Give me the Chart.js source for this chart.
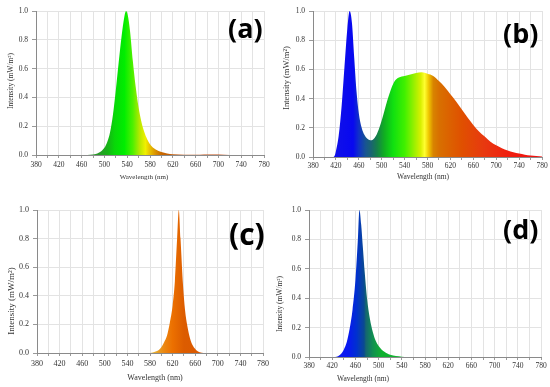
<!DOCTYPE html>
<html>
<head>
<meta charset="utf-8">
<script src="https://cdn.jsdelivr.net/npm/chart.js@4.4.0/dist/chart.umd.min.js"></script>
<style>
  body { margin: 0; background: #fff; }
  #wrap { position: relative; width: 550px; height: 387px; overflow: hidden; background: #fff; }
  .panel { position: absolute; }
  .tag { position: absolute; font-family: 'Open Sans', sans-serif; font-weight: 700; color: #000; line-height: 1; }
</style>
</head>
<body>
<div id="wrap">
  <div class="panel" style="left:0;top:0;width:275px;height:190px"><canvas id="chartA"></canvas></div>
  <div class="panel" style="left:275px;top:0;width:275px;height:190px"><canvas id="chartB"></canvas></div>
  <div class="panel" style="left:0;top:190px;width:275px;height:197px"><canvas id="chartC"></canvas></div>
  <div class="panel" style="left:275px;top:190px;width:275px;height:197px"><canvas id="chartD"></canvas></div>
  <div class="tag" style="left:228px;top:14px;font-size:27px">(a)</div>
  <div class="tag" style="left:503px;top:19px;font-size:27px">(b)</div>
  <div class="tag" style="left:229px;top:219px;font-size:30px">(c)</div>
  <div class="tag" style="left:503px;top:215px;font-size:27px">(d)</div>
</div>
<script>
// wavelength (nm) / normalised intensity
const wlA  = [380, 470, 480, 490, 500, 505, 510, 515, 520, 525, 530, 535, 538, 541, 545, 550, 555, 560, 565, 570, 575, 580, 590, 600, 610, 620, 640, 660, 675, 690, 700, 720, 780];
const intA = [0, 0, 0.003, 0.015, 0.05, 0.09, 0.16, 0.28, 0.45, 0.64, 0.82, 0.96, 1.0, 0.97, 0.86, 0.65, 0.47, 0.33, 0.23, 0.16, 0.11, 0.075, 0.038, 0.02, 0.01, 0.005, 0.002, 0.001, 0.004, 0.003, 0.004, 0, 0];

const wlB  = [380, 410, 415, 418, 420, 425, 430, 435, 440, 444, 448, 452, 456, 460, 465, 470, 475, 480, 485, 490, 495, 500, 505, 510, 515, 520, 525, 530, 540, 550, 560, 570, 580, 590, 600, 610, 620, 630, 640, 650, 660, 670, 680, 690, 700, 710, 720, 730, 740, 750, 760, 770, 780];
const intB = [0, 0, 0, 0.01, 0.04, 0.15, 0.35, 0.62, 0.88, 1.0, 0.92, 0.68, 0.45, 0.30, 0.20, 0.15, 0.125, 0.115, 0.12, 0.145, 0.19, 0.25, 0.32, 0.39, 0.45, 0.50, 0.53, 0.545, 0.555, 0.565, 0.575, 0.58, 0.57, 0.555, 0.52, 0.48, 0.43, 0.38, 0.325, 0.27, 0.22, 0.175, 0.14, 0.105, 0.08, 0.06, 0.045, 0.033, 0.024, 0.016, 0.01, 0.006, 0.004];

const wlC  = [380, 580, 585, 590, 595, 600, 605, 610, 615, 620, 624, 628, 631, 634, 638, 642, 646, 651, 656, 662, 668, 675, 780];
const intC = [0, 0, 0.003, 0.01, 0.02, 0.04, 0.075, 0.12, 0.21, 0.33, 0.5, 0.8, 1.0, 0.8, 0.5, 0.3, 0.19, 0.1, 0.05, 0.02, 0.005, 0, 0];

const wlD  = [380, 425, 430, 435, 440, 445, 450, 455, 460, 464, 467, 470, 473, 476, 480, 485, 490, 495, 500, 510, 520, 530, 540, 550, 780];
const intD = [0, 0, 0.005, 0.02, 0.05, 0.1, 0.19, 0.32, 0.52, 0.78, 1.0, 0.9, 0.74, 0.58, 0.40, 0.26, 0.17, 0.11, 0.075, 0.035, 0.015, 0.006, 0.002, 0, 0];

const xTicks = [380, 420, 460, 500, 540, 580, 620, 660, 700, 740, 780];

// colour stops along the wavelength axis for each fill
const stopsA = [[380, '#2a8a2a'], [490, '#2a9a2a'], [505, '#18b018'], [518, '#08d808'], [535, '#00ee00'], [550, '#50f000'], [562, '#b8e800'], [572, '#f0f000'], [580, '#e8c000'], [590, '#d89000'], [600, '#c86800'], [640, '#c05010'], [780, '#c04010']];
const stopsB = [[380, '#1a1ae0'], [450, '#0808f0'], [460, '#1030c8'], [472, '#185590'], [482, '#1a6570'], [492, '#158048'], [505, '#10b020'], [520, '#10e010'], [540, '#40f000'], [555, '#90f000'], [568, '#d8f000'], [575, '#ffff30'], [582, '#f0c800'], [590, '#d88400'], [600, '#d87000'], [640, '#e05000'], [680, '#e83810'], [720, '#f02010'], [780, '#f01010']];
const stopsC = [[380, '#e8c040'], [588, '#e8b030'], [597, '#e89820'], [607, '#ec8410'], [620, '#ec7000'], [640, '#dc5c00'], [780, '#d85000']];
const stopsD = [[380, '#2020f0'], [448, '#0818f0'], [462, '#0030d0'], [470, '#0840a8'], [475, '#0a4a90'], [478, '#156570'], [490, '#109050'], [505, '#10b030'], [780, '#20c030']];

const serif = "'Liberation Serif', 'Times New Roman', serif";

function spectrumFill(stops) {
  return function (context) {
    const chart = context.chart;
    if (!chart.chartArea) return 'rgba(0,0,0,0)';
    const xs = chart.scales.x;
    const g = chart.ctx.createLinearGradient(xs.getPixelForValue(380), 0, xs.getPixelForValue(780), 0);
    stops.forEach(s => g.addColorStop((s[0] - 380) / 400, s[1]));
    return g;
  };
}

// axis captions drawn where the original figure has them
const captions = {
  id: 'captions',
  afterDraw(chart, args, opts) {
    const ctx = chart.ctx;
    ctx.save();
    ctx.fillStyle = '#333';
    ctx.textAlign = 'center';
    ctx.textBaseline = 'middle';
    ctx.font = opts.xSize + 'px ' + serif;
    ctx.fillText('Wavelength (nm)', opts.xPos[0], opts.xPos[1]);
    ctx.translate(opts.yPos[0], opts.yPos[1]);
    ctx.rotate(-Math.PI / 2);
    ctx.font = opts.ySize + 'px ' + serif;
    ctx.fillText('Intensity (mW/m²)', 0, 0);
    ctx.restore();
  }
};

function makeChart(id, wl, values, stops, box) {
  const points = wl.map((w, i) => ({ x: w, y: values[i] }));
  return new Chart(document.getElementById(id), {
    type: 'line',
    data: {
      datasets: [{
        data: points,
        fill: 'origin',
        backgroundColor: spectrumFill(stops),
        borderWidth: 0,
        pointRadius: 0,
        cubicInterpolationMode: 'monotone'
      }]
    },
    plugins: [captions],
    options: {
      responsive: true,
      maintainAspectRatio: false,
      animation: false,
      layout: { padding: { left: 0, top: box.top, right: box.right, bottom: 0 } },
      plugins: {
        legend: { display: false },
        tooltip: { enabled: false },
        captions: box.captions
      },
      scales: {
        x: {
          type: 'linear',
          min: 380,
          max: 780,
          afterFit: s => { s.height = box.xHeight; },
          border: { color: '#8a8a8a', z: 1 },
          grid: { color: '#e3e3e3', tickColor: '#9a9a9a', tickLength: 3 },
          ticks: {
            stepSize: 20,
            autoSkip: false,
            maxRotation: 0,
            padding: box.xPad,
            color: '#333',
            font: { family: serif, size: box.font },
            callback: v => xTicks.includes(v) ? String(v) : ''
          }
        },
        y: {
          min: 0,
          max: 1,
          afterFit: s => { s.width = box.yWidth; },
          border: { color: '#8a8a8a' },
          grid: { color: '#e3e3e3', tickColor: '#9a9a9a', tickLength: 4 },
          ticks: {
            stepSize: 0.2,
            padding: 4,
            color: '#333',
            font: { family: serif, size: box.font },
            callback: v => v.toFixed(1)
          }
        }
      }
    }
  });
}

makeChart('chartA', wlA, intA, stopsA, {
  top: 11, right: 11, yWidth: 36, xHeight: 35, xPad: 3, font: 7.5,
  captions: { xSize: 7, xPos: [144, 177], ySize: 7.5, yPos: [11, 81] }
});
makeChart('chartB', wlB, intB, stopsB, {
  top: 11, right: 8, yWidth: 38, xHeight: 33, xPad: 2, font: 7.5,
  captions: { xSize: 7.5, xPos: [148, 177], ySize: 8.5, yPos: [12, 78] }
});
makeChart('chartC', wlC, intC, stopsC, {
  top: 20, right: 12, yWidth: 37, xHeight: 34, xPad: 3, font: 8,
  captions: { xSize: 8, xPos: [155, 188], ySize: 9, yPos: [12, 111] }
});
makeChart('chartD', wlD, intD, stopsD, {
  top: 20, right: 9, yWidth: 34, xHeight: 30, xPad: 2, font: 7.5,
  captions: { xSize: 7.5, xPos: [88, 189], ySize: 7.5, yPos: [5, 114] }
});
</script>
</body>
</html>
